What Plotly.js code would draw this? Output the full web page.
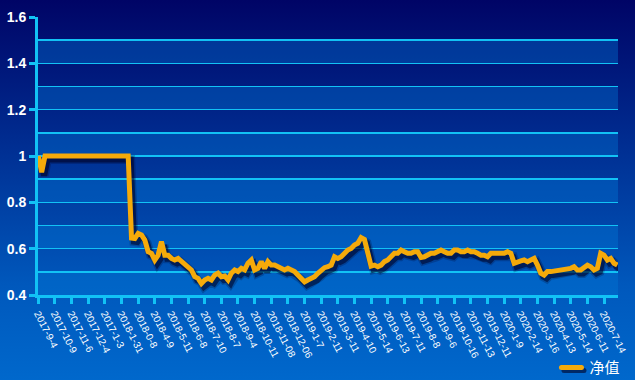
<!DOCTYPE html>
<html>
<head>
<meta charset="utf-8">
<script src="https://cdn.plot.ly/plotly-3.0.1.min.js"></script>
<style>
  html, body { margin: 0; padding: 0; }
  body { width: 635px; height: 380px; background: linear-gradient(to bottom, #000466 0%, #002a8e 35%, #0058bc 75%, #0068cc 100%); overflow: hidden; }
  #chart { width: 635px; height: 380px; }
</style>
</head>
<body>
<div id="chart"></div>
<script>
// Tick labels as printed on the x axis (one every 20 trading days)
const tickLabels = [
  "2017-9-4", "2017-10-9", "2017-11-6", "2017-12-4", "2017-1-3", "2018-1-31", "2018-0-8",
  "2018-4-9", "2018-5-11", "2018-6-8", "2018-7-10", "2018-8-7", "2018-9-4", "2018-10-11",
  "2018-11-08", "2018-12-06", "2019-1-7", "2019-2-11", "2019-3-11", "2019-4-10", "2019-5-14",
  "2019-6-13", "2019-7-11", "2019-8-8", "2019-9-6", "2019-10-16", "2019-11-13", "2019-12-11",
  "2020-1-9", "2020-2-14", "2020-3-16", "2020-4-13", "2020-5-14", "2020-6-11", "2020-7-14"
];
// Net value, sampled every 4 trading days (5 samples per labelled tick)
const nav = [
  1.0, 0.93, 1.0, 1.0, 1.0, 1.0, 1.0, 1.0, 1.0, 1.0,
  1.0, 1.0, 1.0, 1.0, 1.0, 1.0, 1.0, 1.0, 1.0, 1.0,
  1.0, 1.0, 1.0, 1.0, 1.0, 1.0, 1.0, 1.0,
  0.646, 0.644, 0.666, 0.659, 0.637, 0.587, 0.58, 0.551, 0.572, 0.63,
  0.572, 0.572, 0.558, 0.551, 0.558, 0.544, 0.529, 0.522, 0.508, 0.479,
  0.472, 0.45, 0.465, 0.472, 0.465, 0.486, 0.494, 0.479, 0.482, 0.465,
  0.494, 0.508, 0.501, 0.515, 0.508, 0.537, 0.551, 0.508, 0.515, 0.544,
  0.515, 0.544, 0.529, 0.529, 0.522, 0.515, 0.508, 0.515, 0.508, 0.501,
  0.486, 0.472, 0.457, 0.465, 0.472, 0.479, 0.494, 0.508, 0.518, 0.522,
  0.529, 0.565, 0.558, 0.565, 0.58, 0.594, 0.601, 0.616, 0.623, 0.648,
  0.64, 0.57, 0.525, 0.529, 0.522, 0.529, 0.544, 0.551, 0.565, 0.58,
  0.58, 0.594, 0.587, 0.58, 0.58, 0.587, 0.587, 0.562, 0.565, 0.572,
  0.58, 0.58, 0.587, 0.594, 0.587, 0.58, 0.58, 0.594, 0.594, 0.587,
  0.587, 0.594, 0.587, 0.587, 0.58, 0.572, 0.572, 0.565, 0.58, 0.58,
  0.58, 0.58, 0.58, 0.587, 0.58, 0.537, 0.544, 0.547, 0.551, 0.544,
  0.551, 0.558, 0.529, 0.494, 0.486, 0.501, 0.501, 0.503, 0.508, 0.51,
  0.508, 0.515, 0.515, 0.522, 0.508, 0.508, 0.522, 0.529, 0.522, 0.508,
  0.515, 0.58, 0.572, 0.551, 0.558, 0.537, 0.529
];
const seriesName = "净值";
const stepPerTick = 5;

const xIdx = nav.map((_, i) => i);
const tickVals = tickLabels.map((_, i) => i * stepPerTick);

const cyan = "#12c2f5";
const yMin = 0.4, yMax = 1.6, band = 0.1;
const xRange = [-0.1, 174.2];
const plotW = 580, plotH = 278;
// drop shadow offset, in pixels (style only)
const shDx = 2.5, shDy = 3.5;
const xPerPx = (xRange[1] - xRange[0]) / plotW;
const yPerPx = (yMax - yMin) / plotH;

const shapes = [];
for (let i = 0; Math.round((yMin + i * band) * 10) < Math.round(yMax * 10); i++) {
  if (i % 2 === 0) {
    shapes.push({
      type: "rect", xref: "paper", yref: "y", layer: "below",
      x0: 0, x1: 1, y0: yMin + i * band, y1: yMin + (i + 1) * band,
      fillcolor: "rgba(0,120,215,0.38)", line: { width: 0 }
    });
  }
}

const shadow = {
  x: xIdx, y: nav, type: "scatter", mode: "lines", name: seriesName,
  xaxis: "x2", yaxis: "y2", showlegend: false,
  line: { color: "rgba(0,0,35,0.55)", width: 6 },
  hoverinfo: "skip"
};
const shadowSoft = {
  x: xIdx, y: nav, type: "scatter", mode: "lines", name: seriesName,
  xaxis: "x2", yaxis: "y2", showlegend: false,
  line: { color: "rgba(0,0,35,0.22)", width: 9 },
  hoverinfo: "skip"
};
const trace = {
  x: xIdx, y: nav, type: "scatter", mode: "lines", name: seriesName,
  xaxis: "x3", yaxis: "y3",
  line: { color: "#f5aa0a", width: 5, shape: "linear" },
  hoverinfo: "skip"
};

const hidden = { visible: false, fixedrange: true, automargin: false, showgrid: false, zeroline: false };

const layout = {
  width: 635, height: 380,
  margin: { l: 38, r: 17, t: 17, b: 85, autoexpand: false },
  paper_bgcolor: "rgba(0,0,0,0)",
  plot_bgcolor: "rgba(0,0,0,0)",
  font: { family: "Liberation Sans, Arial, sans-serif", color: "#ffffff" },
  showlegend: true,
  legend: {
    xref: "container", yref: "container",
    x: 0.985, xanchor: "right", y: 0.032, yanchor: "middle",
    bgcolor: "rgba(0,0,0,0)", font: { family: "Noto Sans CJK SC, sans-serif", size: 15, color: "#ffffff" },
    itemwidth: 30
  },
  xaxis: {
    range: xRange, automargin: false,
    tickmode: "array", tickvals: tickVals, ticktext: tickLabels,
    tickangle: 63,
    tickfont: { size: 10, color: "#ffffff", family: "Liberation Sans, Arial, sans-serif" },
    ticks: "outside", ticklen: 6, tickwidth: 3, tickcolor: cyan,
    showline: true, linecolor: cyan, linewidth: 3,
    showgrid: false, zeroline: false, fixedrange: true
  },
  yaxis: {
    range: [yMin, yMax], automargin: false,
    tickmode: "linear", tick0: 0.4, dtick: 0.2,
    tickfont: { size: 14, color: "#ffffff", family: "Liberation Sans, Arial, sans-serif", weight: "bold" },
    ticks: "outside", ticklen: 6, tickwidth: 3, tickcolor: cyan,
    showline: true, linecolor: cyan, linewidth: 3,
    showgrid: true, gridcolor: cyan, gridwidth: 1.5,
    minor: { dtick: 0.1, showgrid: true, gridcolor: cyan, gridwidth: 1.5, ticks: "" },
    zeroline: false, fixedrange: true
  },
  xaxis2: Object.assign({}, hidden, { overlaying: "x", range: [xRange[0] - shDx * xPerPx, xRange[1] - shDx * xPerPx] }),
  yaxis2: Object.assign({}, hidden, { overlaying: "y", range: [yMin + shDy * yPerPx, yMax + shDy * yPerPx] }),
  xaxis3: Object.assign({}, hidden, { overlaying: "x", range: xRange }),
  yaxis3: Object.assign({}, hidden, { overlaying: "y", range: [yMin, yMax] }),
  shapes: shapes
};

Plotly.newPlot("chart", [shadowSoft, shadow, trace], layout, { staticPlot: true, displayModeBar: false }).then(gd => {
  gd.querySelectorAll(".legendlines path").forEach(p => {
    p.setAttribute("d", "M12,0h20");
    p.style.strokeLinecap = "round";
    const sh = p.cloneNode(true);
    sh.style.stroke = "rgba(0,0,35,0.6)";
    sh.setAttribute("transform", "translate(2.5,3)");
    p.parentNode.insertBefore(sh, p);
  });
});
</script>
</body>
</html>
